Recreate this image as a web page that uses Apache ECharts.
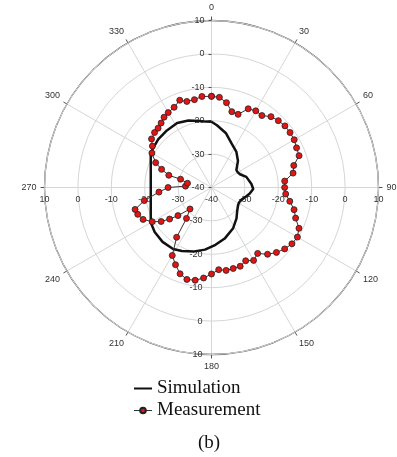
<!DOCTYPE html>
<html><head><meta charset="utf-8">
<script src="https://cdn.jsdelivr.net/npm/echarts@6/dist/echarts.min.js"></script>
<style>html,body{margin:0;padding:0;background:#fff}#c{width:397px;height:457px}</style>
</head><body><div id="c"></div>
<script>
const radiusMin = -40, radiusMax = 10, radiusStep = 10;
const angleStep = 30;
const seriesNames = ['Simulation', 'Measurement'];
const caption = '(b)';

const simAngles = [0,5,15,25,35,45,50,55,60,65,73,85,92,99,106,112,118,123,133,141,152,165,176,186,195,205,212,222,232,240,300,305,312,322,332,341,350,355,360];
const simValues = [-20.3,-21.3,-23.2,-25.6,-27.0,-28.8,-30.0,-30.9,-30.9,-30.6,-29.1,-28.0,-27.5,-28.4,-29.5,-30.3,-30.6,-30.5,-29.5,-28.1,-26.2,-24.3,-22.8,-21.3,-20.2,-19.0,-18.3,-18.1,-18.4,-19.0,-19.0,-18.9,-18.5,-18.3,-18.1,-18.8,-19.8,-20.2,-20.3];

const measAngles = [0,5,10,15,20,25,30,35,40,45,50,55,60,65,70,75,80,85,90,95,100,105,110,115,120,125,130,135,140,145,150,155,160,165,170,175,180,185,190,195,200,205,210,215,219,225,230,233,236,240,245,250,254,259,265,270,273,280,285,286,290,294,300,305,309,314,318,322,326,330,335,340,344,349,354,360];
const measValues = [-12.7,-12.9,-14.2,-16.5,-16.7,-14.0,-13.5,-13.7,-12.3,-11.7,-11.3,-11.3,-11.4,-11.9,-12.1,-14.5,-15.2,-18.0,-18.1,-17.7,-16.2,-14.4,-13.2,-11.1,-10.3,-10.6,-11.4,-12.5,-13.9,-15.9,-14.8,-15.8,-14.9,-14.9,-14.8,-15.3,-14.1,-12.8,-11.8,-11.5,-12.5,-14.5,-16.5,-21.8,-28.1,-30.9,-26.9,-24.3,-21.8,-19.5,-17.4,-16.5,-16.2,-19.5,-24.2,-27.0,-32.2,-32.7,-30.4,-26.7,-24.1,-21.7,-19.4,-18.4,-16.9,-16.3,-16.1,-15.5,-14.6,-14.1,-13.5,-12.2,-13.2,-13.2,-12.6,-12.7];

const simData = simAngles.map((a, i) => [simValues[i], a]);
const measData = measAngles.map((a, i) => [measValues[i], a]);

const center = [211.5, 187.5];
const R = 167;
const tickFont = 'Liberation Sans';
const labelStyle = {fontSize: 9, color: '#333', fontFamily: tickFont};

const extraStarts = [0, 270, 180];
const polar = [{center: center, radius: R}].concat(extraStarts.map(() => ({center: center, radius: R})));

const angleAxis = [{
  polarIndex: 0, type: 'value', min: 0, max: 360, interval: angleStep,
  startAngle: 90, clockwise: true,
  axisLine: {lineStyle: {color: '#555', width: 1.3}},
  axisTick: {show: true, length: 4, lineStyle: {color: '#555', width: 1}},
  axisLabel: Object.assign({margin: 8}, labelStyle),
  splitLine: {show: true, lineStyle: {color: '#d6d6d6', width: 1}},
  z: 5
}].concat(extraStarts.map((s, i) => ({
  polarIndex: i + 1, type: 'value', min: 0, max: 360, startAngle: s, clockwise: true, show: false
})));

const baseRadius = {type: 'value', min: radiusMin, max: radiusMax, interval: radiusStep,
  axisLine: {show: false}};

const radiusAxis = [
  Object.assign({}, baseRadius, {polarIndex: 0,
    axisTick: {show: true, length: 3, lineStyle: {color: '#555'}},
    axisLabel: Object.assign({margin: 7}, labelStyle),
    splitLine: {show: true, lineStyle: {color: '#d6d6d6', width: 1}}, z: 6}),
  Object.assign({}, baseRadius, {polarIndex: 1,
    axisTick: {show: false}, splitLine: {show: false},
    axisLabel: Object.assign({margin: -8, verticalAlign: 'top', showMinLabel: false}, labelStyle), z: 6}),
  Object.assign({}, baseRadius, {polarIndex: 2,
    axisTick: {show: false}, splitLine: {show: false},
    axisLabel: Object.assign({margin: -9, align: 'right', showMinLabel: false}, labelStyle), z: 6}),
  Object.assign({}, baseRadius, {polarIndex: 3,
    axisTick: {show: false}, splitLine: {show: false},
    axisLabel: Object.assign({margin: 8}, labelStyle), z: 6})
];

const chart = echarts.init(document.getElementById('c'), null, {renderer: 'canvas'});
chart.setOption({
  animation: false,
  backgroundColor: '#fff',
  title: {text: caption, left: 193, top: 429,
    textStyle: {fontFamily: 'Liberation Serif', fontSize: 19, fontWeight: 'normal', color: '#111'}},
  legend: {orient: 'vertical', left: 128, top: 374, itemWidth: 18, itemHeight: 7, itemGap: 3,
    data: [
      {name: seriesNames[0], itemStyle: {opacity: 0}, lineStyle: {width: 2}},
      {name: seriesNames[1], lineStyle: {width: 1}}
    ],
    textStyle: {fontFamily: 'Liberation Serif', fontSize: 19, color: '#111'}},
  polar: polar,
  angleAxis: angleAxis,
  radiusAxis: radiusAxis,
  series: [
    {type: 'line', name: seriesNames[0], coordinateSystem: 'polar', polarIndex: 0,
      data: simData, symbol: 'none', showSymbol: false,
      lineStyle: {color: '#111', width: 2.5}, itemStyle: {color: '#111'}, z: 8},
    {type: 'line', name: seriesNames[1], coordinateSystem: 'polar', polarIndex: 0,
      data: measData, symbol: 'circle', symbolSize: 6,
      lineStyle: {color: '#333', width: 1},
      itemStyle: {color: '#e21414', borderColor: '#222', borderWidth: 0.8}, z: 9}
  ]
});
</script>
</body></html>
